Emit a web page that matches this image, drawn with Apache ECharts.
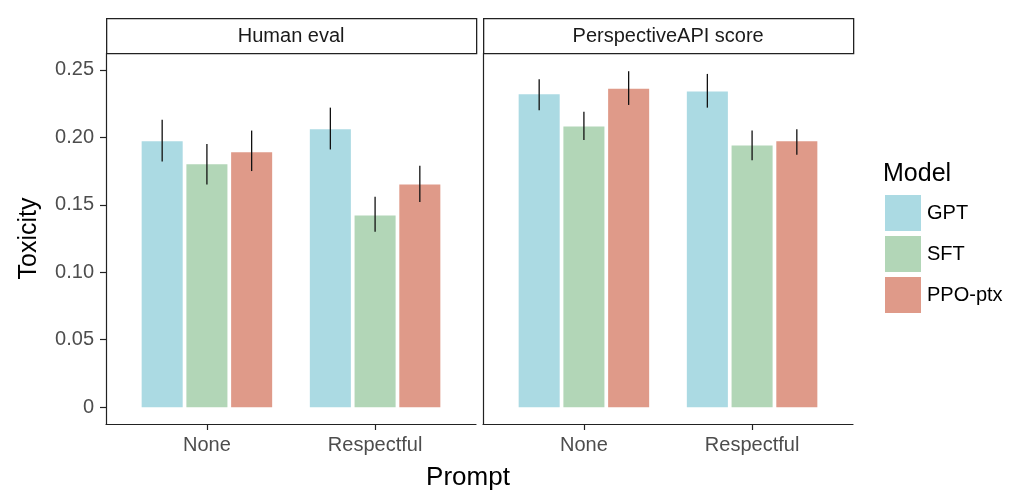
<!DOCTYPE html>
<html>
<head>
<meta charset="utf-8">
<script src="https://cdn.jsdelivr.net/npm/echarts@6/dist/echarts.min.js"></script>
<style>
  html, body { margin: 0; padding: 0; background: #fff; }
  #main { width: 1025px; height: 495px; }
</style>
</head>
<body>
<div id="main"></div>
<script>
// facets, x categories and fill groups
const panels = ['Human eval', 'PerspectiveAPI score'];
const prompts = ['None', 'Respectful'];
const models = ['GPT', 'SFT', 'PPO-ptx'];
const colors = ['#ABDAE3', '#B2D6B7', '#DF9A89'];
const yTicks = [0, 0.05, 0.1, 0.15, 0.2, 0.25];

// rows = model, columns = prompt
const humanMean = [[0.197, 0.206], [0.180, 0.142], [0.189, 0.165]];
const humanLow  = [[0.182, 0.191], [0.165, 0.130], [0.175, 0.152]];
const humanHigh = [[0.213, 0.222], [0.195, 0.156], [0.205, 0.179]];

const apiMean = [[0.232, 0.234], [0.208, 0.194], [0.236, 0.197]];
const apiLow  = [[0.220, 0.222], [0.198, 0.183], [0.224, 0.187]];
const apiHigh = [[0.243, 0.247], [0.219, 0.205], [0.249, 0.206]];

const DODGE = 0.266;   // distance between bar centres (x units)
const BAR_W = 0.244;   // bar width (x units)
const FONT = 'Liberation Sans, Arial, Helvetica, sans-serif';

function renderBar(params, api) {
  const m = api.value(2);
  const c = api.value(0) + (m - 1) * DODGE;
  const p0 = api.coord([c - BAR_W / 2, api.value(1)]);
  const p1 = api.coord([c + BAR_W / 2, 0]);
  return {
    type: 'rect',
    shape: { x: p0[0], y: p0[1], width: p1[0] - p0[0], height: p1[1] - p0[1] },
    style: { fill: api.visual('color') }
  };
}

function renderErr(params, api) {
  const c = api.value(0) + (api.value(3) - 1) * DODGE;
  const lo = api.coord([c, api.value(1)]);
  const hi = api.coord([c, api.value(2)]);
  return {
    type: 'line',
    shape: { x1: lo[0], y1: lo[1], x2: hi[0], y2: hi[1] },
    style: { stroke: '#111', lineWidth: 1.3 }
  };
}

const means = [humanMean, apiMean];
const lows = [humanLow, apiLow];
const highs = [humanHigh, apiHigh];

const series = [];
panels.forEach((p, g) => {
  models.forEach((name, m) => {
    series.push({
      type: 'custom',
      name: name,
      xAxisIndex: g,
      yAxisIndex: g,
      itemStyle: { color: colors[m] },
      renderItem: renderBar,
      data: prompts.map((pr, i) => [i + 1, means[g][m][i], m])
    });
  });
  const errData = [];
  models.forEach((name, m) => {
    prompts.forEach((pr, i) => errData.push([i + 1, lows[g][m][i], highs[g][m][i], m]));
  });
  series.push({
    type: 'custom',
    name: 'err' + g,
    xAxisIndex: g,
    yAxisIndex: g,
    z: 5,
    renderItem: renderErr,
    data: errData
  });
});

const gridLefts = [106, 483];
const axisLine = { show: true, onZero: false, lineStyle: { color: '#222', width: 1.2 } };

const chart = echarts.init(document.getElementById('main'));
chart.setOption({
  backgroundColor: '#fff',
  animation: false,
  textStyle: { fontFamily: FONT },
  title: {
    text: 'Model',
    left: 883,
    top: 162,
    padding: 0,
    textStyle: { fontFamily: FONT, fontSize: 25, fontWeight: 'normal', color: '#000' }
  },
  legend: {
    data: models,
    orient: 'vertical',
    left: 885,
    top: 195,
    padding: 0,
    icon: 'rect',
    itemWidth: 36,
    itemHeight: 36,
    itemGap: 5,
    textStyle: { fontFamily: FONT, fontSize: 20, color: '#000', padding: [0, 0, 0, 1] },
    selectedMode: false
  },
  grid: gridLefts.map(l => ({ left: l, top: 53, width: 370, height: 371 })),
  xAxis: gridLefts.map((l, g) => ({
    type: 'value',
    gridIndex: g,
    min: 0.4,
    max: 2.6,
    splitLine: { show: false },
    axisLine: axisLine,
    axisTick: { show: true, customValues: [1, 2], length: 6, lineStyle: { color: '#222', width: 1.2 } },
    axisLabel: {
      customValues: [1, 2],
      formatter: v => prompts[Math.round(v) - 1],
      fontSize: 20,
      color: '#4D4D4D',
      margin: 11,
      fontFamily: FONT
    }
  })),
  yAxis: gridLefts.map((l, g) => ({
    type: 'value',
    gridIndex: g,
    min: -0.0125,
    max: 0.2625,
    name: g === 0 ? 'Toxicity' : '',
    nameLocation: 'middle',
    nameGap: 64,
    nameTextStyle: { fontFamily: FONT, fontSize: 25, color: '#000' },
    splitLine: { show: false },
    axisLine: axisLine,
    axisTick: { show: g === 0, customValues: yTicks, length: 6, lineStyle: { color: '#222', width: 1.2 } },
    axisLabel: {
      show: g === 0,
      customValues: yTicks,
      formatter: v => (v === 0 ? '0' : v.toFixed(2)),
      fontSize: 20,
      color: '#4D4D4D',
      margin: 12,
      fontFamily: FONT
    }
  })),
  graphic: [
    ...panels.map((p, g) => ({
      type: 'group',
      left: gridLefts[g],
      top: 18,
      children: [
        {
          type: 'rect',
          shape: { x: 0.5, y: 0.5, width: 370, height: 35 },
          style: { fill: '#fff', stroke: '#222', lineWidth: 1.3 }
        },
        {
          type: 'text',
          x: 185,
          y: 18,
          style: {
            text: p, fontFamily: FONT, fontSize: 20, fill: '#1a1a1a',
            textAlign: 'center', textVerticalAlign: 'middle'
          }
        }
      ]
    })),
    {
      type: 'text',
      x: 468,
      y: 478,
      style: {
        text: 'Prompt', fontFamily: FONT, fontSize: 26, fill: '#000',
        textAlign: 'center', textVerticalAlign: 'middle'
      }
    }
  ],
  series: series
});
</script>
</body>
</html>
